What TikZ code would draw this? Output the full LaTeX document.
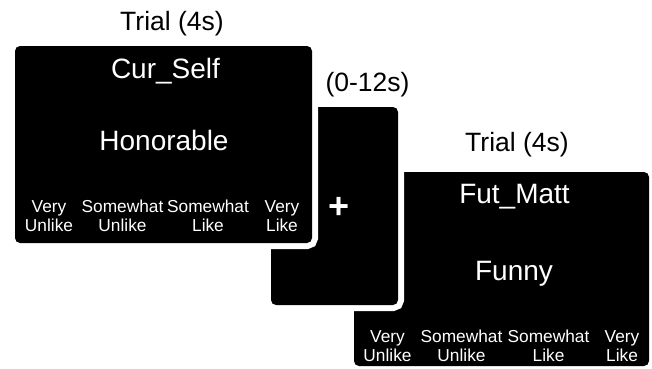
\documentclass[tikz,border=0pt]{standalone}
\usepackage{fontspec}
\setmainfont{Liberation Sans}
\usepackage{tikz}
\tikzstyle{screen} = [rectangle, fill=black, rounded corners=5pt, inner sep=0pt, preaction={draw=white, line width=12pt}]
\tikzstyle{bigtxt} = [text=white, inner sep=0pt, anchor=base, font=\fontsize{28}{32}\selectfont]
\tikzstyle{timing} = [text=black, inner sep=0pt, anchor=base, font=\fontsize{26.5}{30}\selectfont]
\tikzstyle{choice} = [text=white, inner sep=0pt, anchor=base, align=center, font=\fontsize{17.3}{19}\selectfont]

\begin{document}
\begin{tikzpicture}[x=1pt, y=-1pt]
\useasboundingbox (0,0) rectangle (652,368);

% screens (back to front) =============================
\node[screen, minimum width=295pt, minimum height=194pt] (fut) at (501.5,269) {};
\node[screen, minimum width=127pt, minimum height=198pt] (fix) at (334.5,206) {};
\node[screen, minimum width=297pt, minimum height=197pt] (cur) at (163.5,144.5) {};

% first trial
\node[timing] (trial1) at (172,30) {Trial (4s)};
\node[bigtxt] (cue1) at (165.5,78) {Cur\_Self};
\node[bigtxt] (word1) at (164,150) {Honorable};
\node[choice] (vu1) at (49,231) {Very\\Unlike};
\node[choice] (su1) at (122.5,231) {Somewhat\\Unlike};
\node[choice] (sl1) at (208,231) {Somewhat\\Like};
\node[choice] (vl1) at (282,231) {Very\\Like};

% fixation
\node[timing] (iti) at (367.5,91.5) {(0-12s)};
\node[text=white, inner sep=0pt, font=\bfseries\fontsize{36}{36}\selectfont] (plus) at (339,208) {+};

% second trial
\node[timing] (trial2) at (517,151) {Trial (4s)};
\node[bigtxt] (cue2) at (514.5,203) {Fut\_Matt};
\node[bigtxt] (word2) at (514,280) {Funny};
\node[choice] (vu2) at (387.5,361) {Very\\Unlike};
\node[choice] (su2) at (461.5,361) {Somewhat\\Unlike};
\node[choice] (sl2) at (548.5,361) {Somewhat\\Like};
\node[choice] (vl2) at (622,361) {Very\\Like};

\end{tikzpicture}
\end{document}
